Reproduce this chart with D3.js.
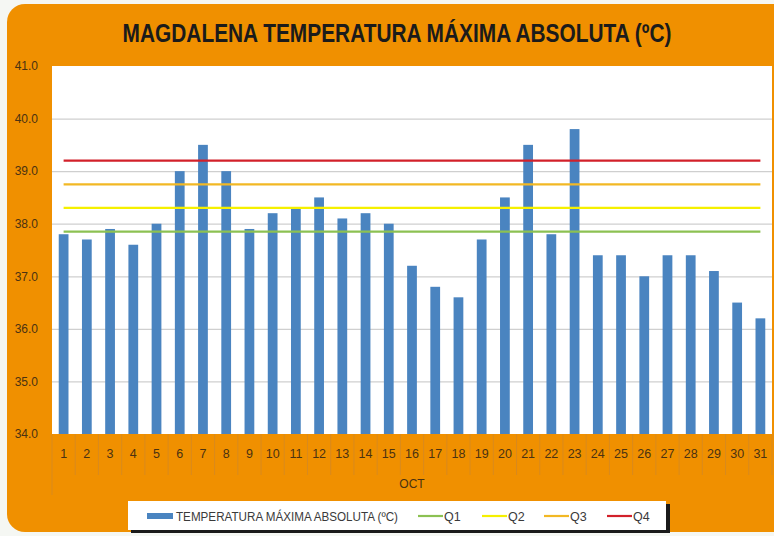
<!DOCTYPE html>
<html>
<head>
<meta charset="utf-8">
<script src="https://cdn.jsdelivr.net/npm/d3@7"></script>
<style>
  body { margin: 0; background: #f5f7f3; }
  svg { display: block; }
</style>
</head>
<body>
<div id="chart"></div>
<script>
"use strict";

// Days of October and the max temperatures
const days = d3.range(1, 32).map(String);
const tempMax = [37.8, 37.7, 37.9, 37.6, 38.0, 39.0, 39.5, 39.0, 37.9, 38.2,
                 38.3, 38.5, 38.1, 38.2, 38.0, 37.2, 36.8, 36.6, 37.7, 38.5,
                 39.5, 37.8, 39.8, 37.4, 37.4, 37.0, 37.4, 37.4, 37.1, 36.5, 36.2];

// Quartile reference lines
const quartileNames = ["Q1", "Q2", "Q3", "Q4"];
const quartileValues = [37.85, 38.3, 38.75, 39.2];
const quartileColors = ["#8cc152", "#f5f000", "#f2b824", "#d2202a"];

const yTicks = [34, 35, 36, 37, 38, 39, 40, 41];

const width = 774, height = 536;
const margin = { top: 66, right: 2, bottom: 102, left: 52 };
const orange = "#f09000";
const labelFont = "'Liberation Sans Narrow', 'Arial Narrow', 'Liberation Sans', sans-serif";

const svg = d3.select("#chart").append("svg")
    .attr("width", width)
    .attr("height", height);

// Orange panel behind everything
svg.append("rect")
    .attr("x", 7).attr("y", 4)
    .attr("width", 800).attr("height", 528)
    .attr("rx", 18)
    .attr("fill", orange);

// Title squeezed horizontally to look like the original condensed font
svg.append("text")
    .attr("transform", "translate(397,42) scale(0.835,1)")
    .attr("text-anchor", "middle")
    .attr("font-family", labelFont)
    .attr("font-weight", "bold")
    .attr("font-size", 25)
    .attr("fill", "#1b1b1b")
    .text("MAGDALENA TEMPERATURA MÁXIMA ABSOLUTA (ºC)");

const xScale = d3.scaleBand()
    .domain(days)
    .range([margin.left, width - margin.right])
    .paddingInner(0.58)
    .paddingOuter(0.29);

const yScale = d3.scaleLinear()
    .domain([34, 41])
    .range([height - margin.bottom, margin.top]);

// Plot area
svg.append("rect")
    .attr("x", margin.left).attr("y", margin.top)
    .attr("width", width - margin.right - margin.left)
    .attr("height", height - margin.bottom - margin.top)
    .attr("fill", "white");

// Y axis with gridlines
svg.append("g")
    .attr("transform", `translate(${margin.left},0)`)
    .call(d3.axisLeft(yScale).tickValues(yTicks).tickFormat(d3.format(".1f")).tickSize(0).tickPadding(14))
    .call(g => g.select(".domain").remove())
    .call(g => g.selectAll(".tick text")
        .attr("font-family", labelFont)
        .attr("font-size", 12)
        .attr("fill", "#4a3212"))
    .call(g => g.selectAll(".tick").filter(d => d > 34 && d < 41).append("line")
        .attr("x2", width - margin.right - margin.left)
        .attr("stroke", "#cfcfcf")
        .attr("stroke-width", 1.2));

// Bars
svg.append("g")
    .attr("fill", "#4a84c0")
    .selectAll("rect")
    .data(tempMax)
    .join("rect")
    .attr("x", (d, i) => xScale(days[i]))
    .attr("y", d => yScale(d))
    .attr("width", xScale.bandwidth())
    .attr("height", d => yScale(34) - yScale(d));

// Quartile lines, from centre of first day to centre of last day
const xCenter = d => xScale(d) + xScale.bandwidth() / 2;
svg.append("g")
    .selectAll("line")
    .data(quartileValues)
    .join("line")
    .attr("x1", xCenter(days[0]))
    .attr("x2", xCenter(days[days.length - 1]))
    .attr("y1", d => yScale(d))
    .attr("y2", d => yScale(d))
    .attr("stroke", (d, i) => quartileColors[i])
    .attr("stroke-width", 2.2);

// X axis: day labels with category separators (Excel multi-level style)
const step = xScale.step();
const xAxis = svg.append("g")
    .attr("transform", `translate(0,${height - margin.bottom})`);

xAxis.selectAll("line.sep")
    .data(d3.range(days.length + 1))
    .join("line")
    .attr("class", "sep")
    .attr("x1", i => margin.left + i * step)
    .attr("x2", i => margin.left + i * step)
    .attr("y1", 0)
    .attr("y2", i => i === 0 ? 61 : 41)
    .attr("stroke", "#d88a1e")
    .attr("stroke-width", 1);

xAxis.selectAll("text.day")
    .data(days)
    .join("text")
    .attr("class", "day")
    .attr("x", d => xCenter(d))
    .attr("y", 24)
    .attr("text-anchor", "middle")
    .attr("font-family", labelFont)
    .attr("font-size", 12.5)
    .attr("fill", "#4a3212")
    .text(d => d);

xAxis.append("text")
    .attr("x", (margin.left + width - margin.right) / 2)
    .attr("y", 54)
    .attr("text-anchor", "middle")
    .attr("font-family", labelFont)
    .attr("font-size", 12)
    .attr("fill", "#4a3212")
    .text("OCT");

// Legend box with a dark drop shadow
const legend = svg.append("g").attr("transform", "translate(128,501)");
legend.append("rect")
    .attr("x", 3).attr("y", 3)
    .attr("width", 539).attr("height", 29)
    .attr("fill", "#1a1a1a");
legend.append("rect")
    .attr("width", 538).attr("height", 29)
    .attr("fill", "white");

legend.append("rect")
    .attr("x", 19).attr("y", 12)
    .attr("width", 26).attr("height", 6)
    .attr("fill", "#4a84c0");
legend.append("text")
    .attr("x", 48).attr("y", 19.5)
    .attr("font-family", labelFont)
    .attr("font-size", 12.5)
    .attr("fill", "#3a3a3a")
    .attr("textLength", 222)
    .attr("lengthAdjust", "spacingAndGlyphs")
    .text("TEMPERATURA MÁXIMA ABSOLUTA (ºC)");

const legendX = [290, 354, 416, 479];
const qItems = legend.selectAll("g.q")
    .data(quartileNames)
    .join("g")
    .attr("class", "q")
    .attr("transform", (d, i) => `translate(${legendX[i]},0)`);
qItems.append("line")
    .attr("x1", 0).attr("x2", 25)
    .attr("y1", 15).attr("y2", 15)
    .attr("stroke", (d, i) => quartileColors[i])
    .attr("stroke-width", 2.2);
qItems.append("text")
    .attr("x", 26).attr("y", 19.5)
    .attr("font-family", labelFont)
    .attr("font-size", 12.5)
    .attr("fill", "#3a3a3a")
    .text(d => d);
</script>
</body>
</html>
